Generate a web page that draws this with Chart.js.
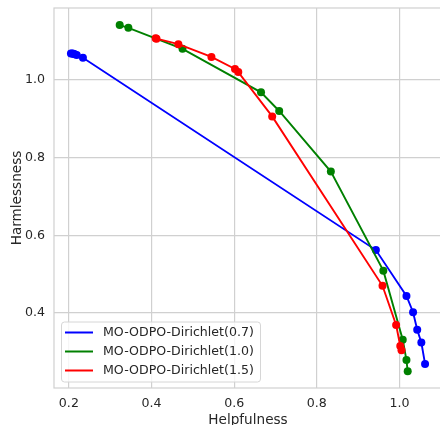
<!DOCTYPE html>
<html>
<head>
<meta charset="utf-8">
<script src="https://cdn.jsdelivr.net/npm/chart.js@4"></script>
<style>
html,body{margin:0;padding:0;background:#fff;overflow:hidden;width:440px;height:425px;}
canvas{display:block;}
</style>
</head>
<body>
<canvas id="c" width="446" height="425"></canvas>
<script>
// ---- data ----
const seriesLabels = ['MO-ODPO-Dirichlet(0.7)', 'MO-ODPO-Dirichlet(1.0)', 'MO-ODPO-Dirichlet(1.5)'];
const seriesColors = ['#0000ff', '#008000', '#ff0000'];

const blueX = [0.205, 0.208, 0.211, 0.214, 0.219, 0.234, 0.943, 1.017, 1.033, 1.043, 1.053, 1.062];
const blueY = [1.068, 1.068, 1.067, 1.066, 1.064, 1.057, 0.562, 0.444, 0.402, 0.357, 0.324, 0.269];

const greenX = [0.323, 0.344, 0.475, 0.665, 0.709, 0.834, 0.961, 1.008, 1.017, 1.020];
const greenY = [1.141, 1.134, 1.080, 0.968, 0.920, 0.764, 0.509, 0.331, 0.279, 0.250];

const redX = [0.410, 0.412, 0.465, 0.545, 0.602, 0.610, 0.692, 0.959, 0.992, 1.002, 1.005];
const redY = [1.107, 1.106, 1.092, 1.059, 1.028, 1.020, 0.906, 0.470, 0.369, 0.315, 0.304];

const xTicks = [0.2, 0.4, 0.6, 0.8, 1.0];
const yTicks = [0.4, 0.6, 0.8, 1.0];
const xTitle = 'Helpfulness';
const yTitle = 'Harmlessness';

function pts(xs, ys) { return xs.map((x, i) => ({ x: x, y: ys[i] })); }
const allSeries = [pts(blueX, blueY), pts(greenX, greenY), pts(redX, redY)];

const FONT = 'DejaVu Sans';
const TXT = '#262626';
const GRID = '#d0d0d0';

const frame = {
  id: 'frame',
  afterDraw(chart) {
    const a = chart.chartArea, ctx = chart.ctx;
    ctx.save();
    ctx.strokeStyle = GRID;
    ctx.lineWidth = 1.2;
    ctx.strokeRect(a.left, a.top, a.right - a.left, a.bottom - a.top);
    ctx.restore();
  }
};

const legendBox = {
  id: 'legendBox',
  afterDraw(chart) {
    const ctx = chart.ctx;
    const x0 = 61.5, y0 = 322, w = 199, h = 60, r = 3;
    ctx.save();
    ctx.fillStyle = 'rgba(255,255,255,0.8)';
    ctx.strokeStyle = '#d6d6d6';
    ctx.lineWidth = 1;
    ctx.beginPath();
    ctx.roundRect(x0, y0, w, h, r);
    ctx.fill();
    ctx.stroke();
    ctx.font = '12.6px "' + FONT + '"';
    ctx.textBaseline = 'middle';
    ctx.textAlign = 'left';
    chart.data.datasets.forEach((ds, i) => {
      const yy = 332.5 + i * 19;
      ctx.strokeStyle = ds.borderColor;
      ctx.lineWidth = 2;
      ctx.beginPath();
      ctx.moveTo(65, yy);
      ctx.lineTo(93, yy);
      ctx.stroke();
      ctx.fillStyle = TXT;
      ctx.fillText(ds.label, 103, yy + 0.5);
    });
    ctx.restore();
  }
};

new Chart(document.getElementById('c'), {
  type: 'scatter',
  data: {
    datasets: allSeries.map((d, i) => ({
      label: seriesLabels[i],
      data: d,
      showLine: true,
      borderColor: seriesColors[i],
      backgroundColor: seriesColors[i],
      pointBackgroundColor: seriesColors[i],
      pointBorderColor: seriesColors[i],
      borderWidth: 1.9,
      pointRadius: 4,
      pointBorderWidth: 0,
      pointHoverRadius: 4,
      order: 3 - i
    }))
  },
  options: {
    responsive: false,
    animation: false,
    devicePixelRatio: 1,
    layout: { padding: { top: 8, left: 0, right: 0, bottom: 0 } },
    plugins: {
      legend: { display: false },
      tooltip: { enabled: false }
    },
    scales: {
      x: {
        type: 'linear',
        min: 0.164,
        max: 1.103,
        afterFit(s) { s.height = 37; s.paddingLeft = 0; s.paddingRight = 0; },
        afterBuildTicks(s) { s.ticks = xTicks.map(v => ({ value: v })); },
        grid: { color: GRID, lineWidth: 1.2, drawTicks: false },
        border: { display: false },
        ticks: {
          padding: 8,
          color: TXT,
          font: { family: FONT, size: 12.6 },
          callback: v => Number(v).toFixed(1),
          maxRotation: 0
        },
        title: {
          display: true,
          text: xTitle,
          color: TXT,
          font: { family: FONT, size: 13.6, lineHeight: 0.7 },
          padding: { top: 0, bottom: 0 }
        }
      },
      y: {
        type: 'linear',
        min: 0.207,
        max: 1.185,
        afterFit(s) { s.width = 54; s.paddingTop = 0; s.paddingBottom = 0; },
        afterBuildTicks(s) { s.ticks = yTicks.map(v => ({ value: v })); },
        grid: { color: GRID, lineWidth: 1.2, drawTicks: false },
        border: { display: false },
        ticks: {
          padding: 9,
          color: TXT,
          font: { family: FONT, size: 12.6 },
          callback: v => Number(v).toFixed(1)
        },
        title: {
          display: true,
          text: yTitle,
          color: TXT,
          font: { family: FONT, size: 13.6, lineHeight: 1.2 },
          padding: { top: 9, bottom: 0 }
        }
      }
    }
  },
  plugins: [frame, legendBox]
});
</script>
</body>
</html>
